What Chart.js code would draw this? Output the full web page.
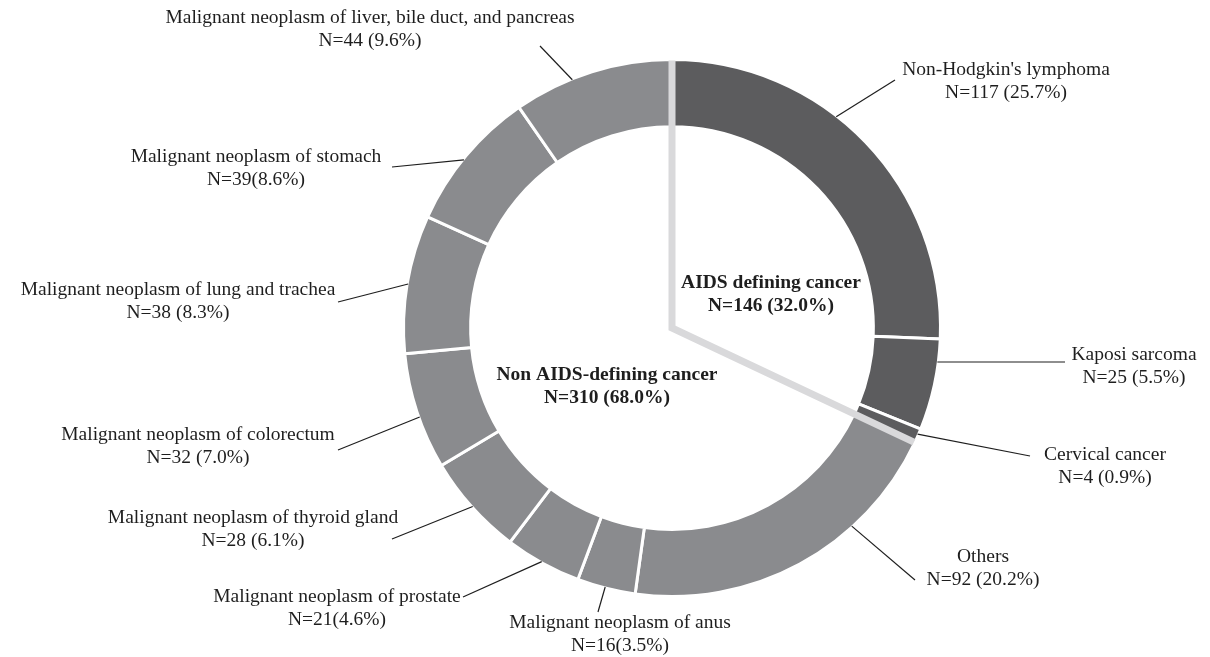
<!DOCTYPE html>
<html lang="en">
<head>
    <meta charset="UTF-8">
    <title>Cancer types donut</title>
    <script src="https://cdn.jsdelivr.net/npm/chart.js"></script>
    <style>
        * { margin: 0; padding: 0; box-sizing: border-box; }
        body { background: #ffffff; }
        .wrap { position: relative; width: 1210px; height: 657px; }
    </style>
</head>
<body>
    <div class="wrap"><canvas id="donut"></canvas></div>

    <script>
        // slices, clockwise from 12 o'clock
        const categories = [
            "Non-Hodgkin's lymphoma",
            'Kaposi sarcoma',
            'Cervical cancer',
            'Others',
            'Malignant neoplasm of anus',
            'Malignant neoplasm of prostate',
            'Malignant neoplasm of thyroid gland',
            'Malignant neoplasm of colorectum',
            'Malignant neoplasm of lung and trachea',
            'Malignant neoplasm of stomach',
            'Malignant neoplasm of liver, bile duct, and pancreas'
        ];
        const counts = [117, 25, 4, 92, 16, 21, 28, 32, 38, 39, 44];
        const countLabels = [
            'N=117 (25.7%)', 'N=25 (5.5%)', 'N=4 (0.9%)', 'N=92 (20.2%)',
            'N=16(3.5%)', 'N=21(4.6%)', 'N=28 (6.1%)', 'N=32 (7.0%)',
            'N=38 (8.3%)', 'N=39(8.6%)', 'N=44 (9.6%)'
        ];
        const groupNames = ['AIDS defining cancer', 'Non AIDS-defining cancer'];
        const groupLabels = ['N=146 (32.0%)', 'N=310 (68.0%)'];
        const aidsSliceCount = 3;

        // label layout: text centre x, first line y, leader end, where on the arc the leader starts (0..1)
        const labelX =  [1006, 1134, 1105, 983, 620, 337, 253, 198, 178, 256, 370];
        const labelY =  [70, 355, 455, 557, 623, 597, 518, 435, 290, 157, 18];
        const leaderEnd = [[895, 80], [1065, 362], [1030, 456], [915, 580], [598, 612], [463, 597],
                           [392, 539], [338, 450], [338, 302], [392, 167], [540, 46]];
        const leaderAt = [0.41, 0.25, 0.4, 0.31, 0.52, 0.52, 0.5, 0.45, 0.5, 0.47, 0.37];
        const groupPos = [[771, 283], [607, 375]];

        const dark = '#5c5c5e', light = '#8a8b8e';
        const sliceColors = counts.map((v, i) => i < aidsSliceCount ? dark : light);

        const serif = '"Liberation Serif", "Times New Roman", serif';

        const annotate = {
            id: 'annotate',
            afterDatasetsDraw(chart) {
                const ctx = chart.ctx;
                const arcs = chart.getDatasetMeta(0).data;
                const cx = arcs[0].x, cy = arcs[0].y;
                const r = arcs[0].outerRadius - 1;

                // divider between the two groups
                const a0 = arcs[0].startAngle;
                const a1 = arcs[aidsSliceCount - 1].endAngle;
                ctx.save();
                ctx.strokeStyle = '#d9d9db';
                ctx.lineWidth = 7;
                ctx.lineJoin = 'miter';
                ctx.beginPath();
                ctx.moveTo(cx + Math.cos(a0) * r, cy + Math.sin(a0) * r);
                ctx.lineTo(cx, cy);
                ctx.lineTo(cx + Math.cos(a1) * r, cy + Math.sin(a1) * r);
                ctx.stroke();

                // leader lines
                ctx.strokeStyle = '#1e1e1e';
                ctx.lineWidth = 1.2;
                arcs.forEach((arc, i) => {
                    const a = arc.startAngle + leaderAt[i] * (arc.endAngle - arc.startAngle);
                    ctx.beginPath();
                    ctx.moveTo(cx + Math.cos(a) * r, cy + Math.sin(a) * r);
                    ctx.lineTo(leaderEnd[i][0], leaderEnd[i][1]);
                    ctx.stroke();
                });

                // slice labels
                ctx.fillStyle = '#1e1e1e';
                ctx.textAlign = 'center';
                ctx.textBaseline = 'middle';
                ctx.font = '19.5px ' + serif;
                categories.forEach((name, i) => {
                    ctx.fillText(name, labelX[i], labelY[i]);
                    ctx.fillText(countLabels[i], labelX[i], labelY[i] + 23);
                });

                // group labels in the hole
                ctx.font = 'bold 19.5px ' + serif;
                groupNames.forEach((name, i) => {
                    ctx.fillText(name, groupPos[i][0], groupPos[i][1]);
                    ctx.fillText(groupLabels[i], groupPos[i][0], groupPos[i][1] + 23);
                });
                ctx.restore();
            }
        };

        new Chart(document.getElementById('donut'), {
            type: 'doughnut',
            data: {
                labels: categories,
                datasets: [{
                    data: counts,
                    backgroundColor: sliceColors,
                    borderColor: '#ffffff',
                    borderWidth: 3
                }]
            },
            options: {
                responsive: true,
                maintainAspectRatio: false,
                animation: false,
                events: [],
                cutout: '75%',
                layout: { padding: { top: 58, bottom: 59, left: 402, right: 268 } },
                plugins: {
                    legend: { display: false },
                    tooltip: { enabled: false }
                }
            },
            plugins: [annotate]
        });
    </script>
</body>
</html>
